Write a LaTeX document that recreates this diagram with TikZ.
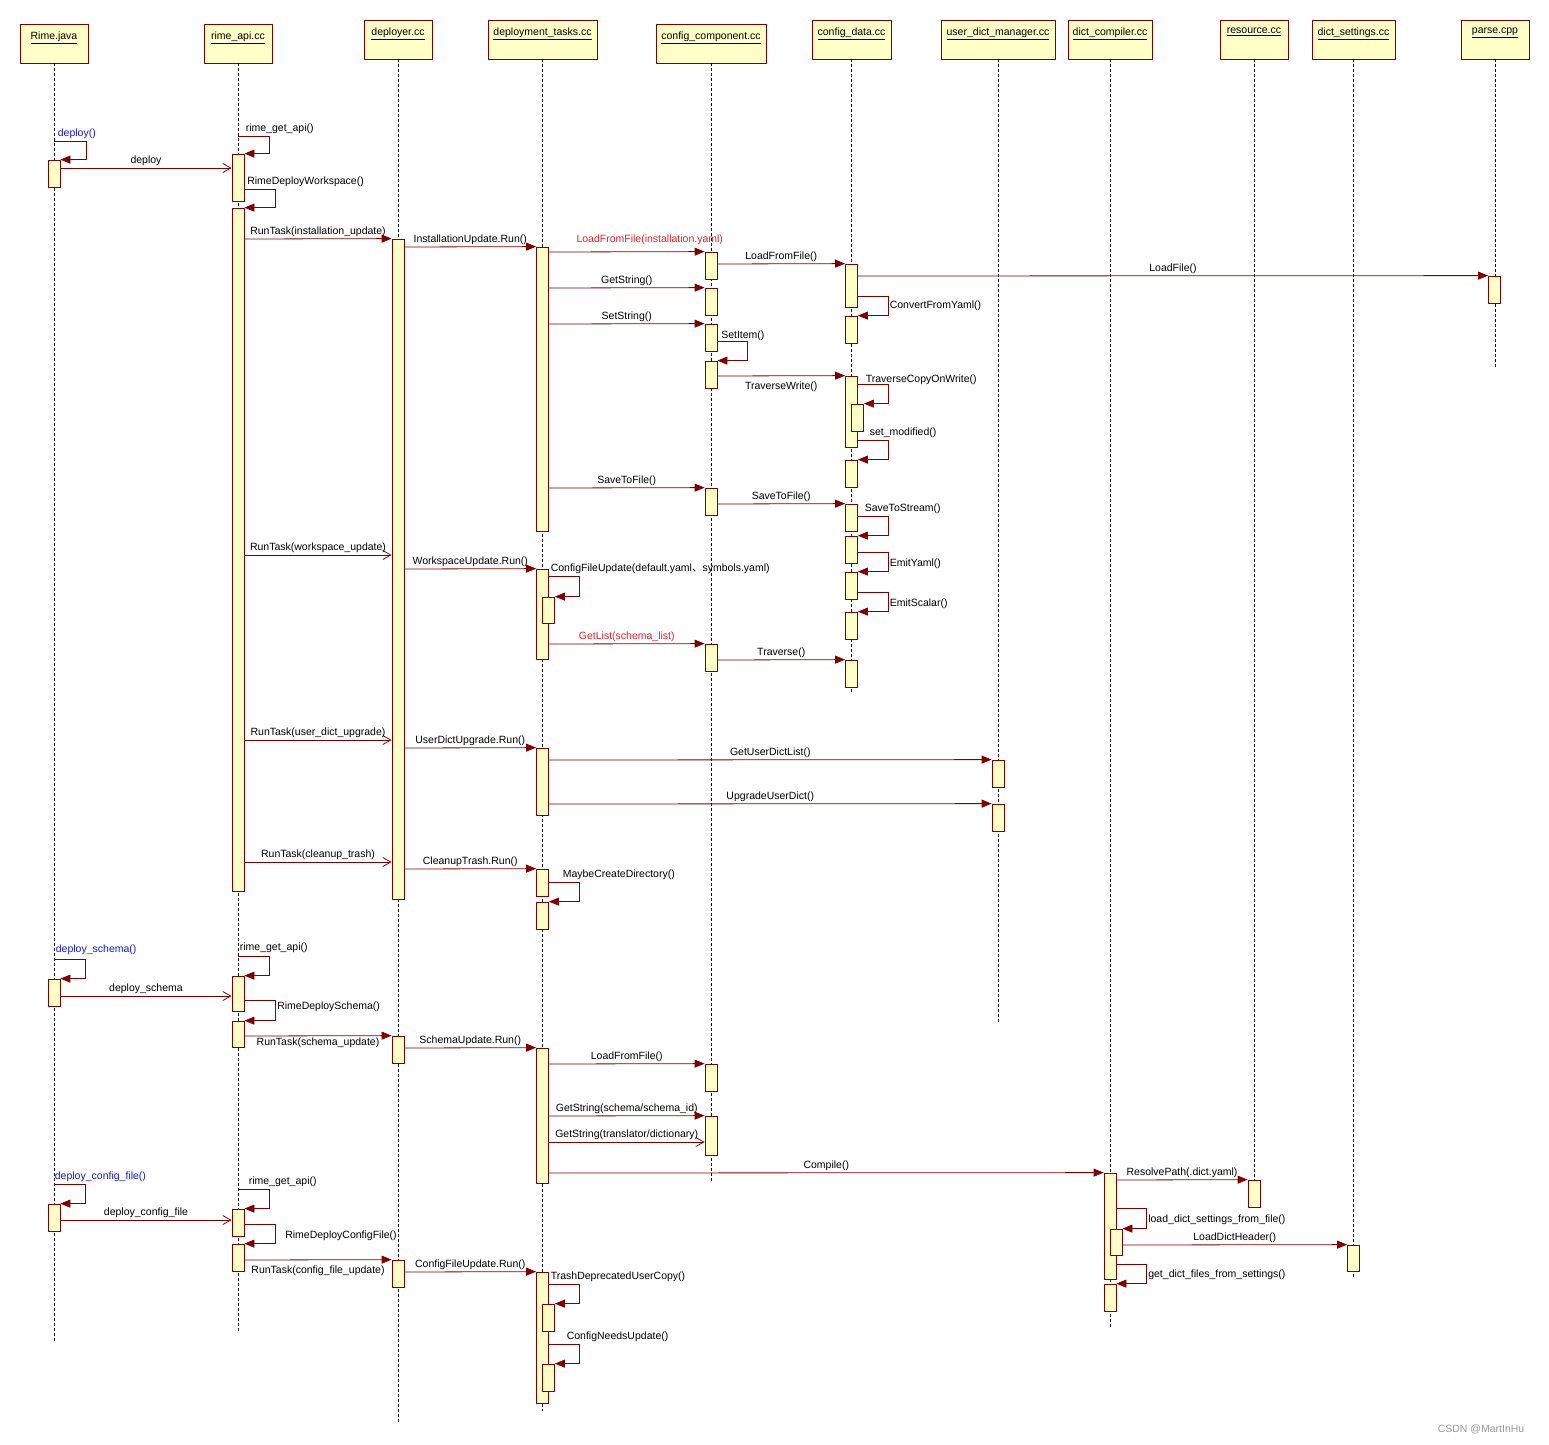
\documentclass[tikz,border=0pt]{standalone}
\usepackage{fontspec}
\setmainfont{Liberation Sans}
\newfontfamily\cjk{Noto Sans CJK SC}
\usepackage{tikz}
\usetikzlibrary{arrows.meta, positioning}

\definecolor{dred}{RGB}{128,0,0}
\definecolor{lyel}{RGB}{255,255,200}
\definecolor{ublue}{RGB}{20,20,230}
\definecolor{ured}{RGB}{230,30,40}

\begin{document}
\begin{tikzpicture}[
    x=1pt, y=-1pt,
    font=\fontsize{10.5}{12}\selectfont,
    head/.style={rectangle, draw=dred, fill=lyel, minimum height=39, inner sep=0, line width=0.8pt},
    act/.style={rectangle, draw=dred, fill=lyel, minimum width=12, inner sep=0, line width=0.8pt},
    life/.style={draw=black, dash pattern=on 3pt off 2pt, line width=0.6pt},
    call/.style={draw=dred, line width=0.8pt, -{Triangle[length=10pt,width=8pt]}},
    async/.style={draw=dred, line width=0.8pt, -{Straight Barb[length=8pt,width=9pt]}},
    lbl/.style={inner sep=1.5pt, text=black}
]
    \useasboundingbox (0,0) rectangle (1549,1444);
    % lifeline heads
    \foreach \n/\x/\y/\w/\t in {rj/54/43.5/68/Rime.java, ra/238/43.5/68/rime\_api.cc,
        dp/398/39.5/68/deployer.cc, dt/542.5/39.5/109/deployment\_tasks.cc,
        cc/711/43.5/110/config\_component.cc, cd/851.5/39.5/79/config\_data.cc,
        ud/998/39.5/114/user\_dict\_manager.cc, dc/1110/39.5/84/dict\_compiler.cc,
        rs/1254/39.5/68/resource.cc, ds/1353.5/39.5/83/dict\_settings.cc,
        pc/1495/39.5/68/parse.cpp}
        \node[head, minimum width=\w, label={[anchor=north, yshift=-5pt]north:\underline{\t}}] (\n) at (\x,\y) {};
    \foreach \n/\e in {rj/1343, ra/1333, dp/1423, dt/1411, cc/1182, cd/692,
        ud/1022, dc/1327, rs/1207, ds/1279, pc/368}
        \draw[life] (\n) -- (\n |- 0,\e);
    % activations
    \foreach \n/\x/\a/\b in {rj1/54/160/187, rj2/54/979/1006, rj3/54/1204/1231,
        ra1/238/154/201, ra2/238/208/891, ra3/238/976/1011, ra4/238/1021/1047, ra5/238/1209/1236, ra6/238/1244/1271,
        dp1/398/239/899, dp2/398/1036/1063, dp3/398/1260/1287,
        dt1/542.5/247/531, dt2/542.5/569/659, dt2n/548.5/597/623, dt3/542.5/748/815, dt4/542.5/869/896,
        dt5/542.5/902/929, dt6/542.5/1048/1183, dt7/542.5/1272/1403, dt7a/548.5/1304/1331, dt7b/548.5/1364/1391,
        cc1/711/252/279, cc2/711/288/315, cc3/711/324/351, cc4/711/361/388, cc5/711/488/515,
        cc6/711/644/671, cc7/711/1064/1091, cc8/711/1116/1155,
        cd1/851.5/264/307, cd2/851.5/316/343, cd3/851.5/376/447, cd3n/857.5/404/431, cd4/851.5/460/487,
        cd5/851.5/504/531, cd6/851.5/536/563, cd7/851.5/572/599, cd8/851.5/612/639, cd9/851.5/660/687,
        ud1/998/760/787, ud2/998/804/831,
        dc1/1110/1173/1279, dc1n/1116/1229/1255, dc2/1110/1284/1311,
        rs1/1254/1180/1207, ds1/1353.5/1245/1271, pc1/1494.5/276/303}
        \node[act, minimum height=\b-\a] (\n) at (\x,{(\a+\b)/2}) {};

    % deploy workspace
    \draw[call] (rj.south |- 0,141) node[lbl, text=ublue, above right, xshift=2pt] {deploy()} -- ++(32,0) |- (rj1.north east);
    \draw[call] (ra.south |- 0,136) node[lbl, above right, xshift=6pt] {rime\_get\_api()} -- ++(31,0) |- (ra1.north east);
    \draw[async] (rj1.east |- 0,168) -- node[lbl, above] {deploy} (ra1.west |- 0,168);
    \draw[call] (ra1.east |- 0,189) node[lbl, above right, xshift=1pt] {RimeDeployWorkspace()} -- ++(31,0) |- (ra2.north east);
    \draw[call] (ra2.east |- 0,239) -- node[lbl, above] {RunTask(installation\_update)} (dp1.north west);
    \draw[call] (dp1.east |- 0,247) -- node[lbl, above] {InstallationUpdate.Run()} (dt1.north west);
    \draw[call] (dt1.east |- 0,252) -- node[lbl, above, text=ured, xshift=23pt, yshift=5pt] {LoadFromFile(installation.yaml)} (cc1.north west);
    \draw[call] (cc1.east |- 0,264) -- node[lbl, above] {LoadFromFile()} (cd1.north west);
    \draw[call] (cd1.east |- 0,276) -- node[lbl, above] {LoadFile()} (pc1.north west);
    \draw[call] (cd1.east |- 0,296) -- ++(30,0) |- node[lbl, right, pos=0.25] {ConvertFromYaml()} (cd2.north east);
    \draw[call] (dt1.east |- 0,288) -- node[lbl, above] {GetString()} (cc2.north west);
    \draw[call] (dt1.east |- 0,324) -- node[lbl, above] {SetString()} (cc3.north west);
    \draw[call] (cc3.east |- 0,341) node[lbl, above right, xshift=2pt, yshift=-2pt] {SetItem()} -- ++(30,0) |- (cc4.north east);
    \draw[call] (cc4.east |- 0,376) -- node[lbl, below, yshift=-4pt] {TraverseWrite()} (cd3.north west);
    \draw[call] (cd3.east |- 0,384) node[lbl, anchor=west, xshift=6pt, yshift=4pt] {TraverseCopyOnWrite()} -- ++(30,0) |- (cd3n.north east);
    \draw[call] (cd3.east |- 0,440) node[lbl, above right, xshift=10pt] {set\_modified()} -- ++(30,0) |- (cd4.north east);
    \draw[call] (dt1.east |- 0,488) -- node[lbl, above] {SaveToFile()} (cc5.north west);
    \draw[call] (cc5.east |- 0,504) -- node[lbl, above] {SaveToFile()} (cd5.north west);
    \draw[call] (cd5.east |- 0,516) node[lbl, above right, xshift=5pt] {SaveToStream()} -- ++(30,0) |- (cd6.north east);
    \draw[call] (cd6.east |- 0,552) -- ++(30,0) |- node[lbl, right, pos=0.25, yshift=-2pt] {EmitYaml()} (cd7.north east);
    \draw[call] (cd7.east |- 0,592) -- ++(30,0) |- node[lbl, right, pos=0.25, yshift=-2pt] {EmitScalar()} (cd8.north east);
    \draw[async] (ra2.east |- 0,555) -- node[lbl, above] {RunTask(workspace\_update)} (dp1.west |- 0,555);
    \draw[call] (dp1.east |- 0,569) -- node[lbl, above] {WorkspaceUpdate.Run()} (dt2.north west);
    \draw[call] (dt2.east |- 0,576) node[lbl, above right] {ConfigFileUpdate(default.yaml{\cjk 、}symbols.yaml)} -- ++(30,0) |- (dt2n.north east);
    \draw[call] (dt2.east |- 0,644) -- node[lbl, above, text=ured] {GetList(schema\_list)} (cc6.north west);
    \draw[call] (cc6.east |- 0,660) -- node[lbl, above] {Traverse()} (cd9.north west);
    \draw[async] (ra2.east |- 0,740) -- node[lbl, above] {RunTask(user\_dict\_upgrade)} (dp1.west |- 0,740);
    \draw[call] (dp1.east |- 0,748) -- node[lbl, above] {UserDictUpgrade.Run()} (dt3.north west);
    \draw[call] (dt3.east |- 0,760) -- node[lbl, above] {GetUserDictList()} (ud1.north west);
    \draw[call] (dt3.east |- 0,804) -- node[lbl, above] {UpgradeUserDict()} (ud2.north west);
    \draw[async] (ra2.east |- 0,862) -- node[lbl, above] {RunTask(cleanup\_trash)} (dp1.west |- 0,862);
    \draw[call] (dp1.east |- 0,869) -- node[lbl, above] {CleanupTrash.Run()} (dt4.north west);
    \draw[call] (dt4.east |- 0,882) node[lbl, above right, xshift=12pt] {MaybeCreateDirectory()} -- ++(30,0) |- (dt5.north east);

    % deploy schema
    \draw[call] (rj.south |- 0,959) node[lbl, text=ublue, above right, yshift=2pt] {deploy\_schema()} -- ++(31,0) |- (rj2.north east);
    \draw[call] (ra.south |- 0,956) node[lbl, above right, yshift=1pt] {rime\_get\_api()} -- ++(31,0) |- (ra3.north east);
    \draw[async] (rj2.east |- 0,996) -- node[lbl, above] {deploy\_schema} (ra3.west |- 0,996);
    \draw[call] (ra3.east |- 0,1000) -- ++(31,0) |- node[lbl, right, pos=0.25, yshift=4pt] {RimeDeploySchema()} (ra4.north east);
    \draw[call] (ra4.east |- 0,1036) -- node[lbl, below] {RunTask(schema\_update)} (dp2.north west);
    \draw[call] (dp2.east |- 0,1048) -- node[lbl, above] {SchemaUpdate.Run()} (dt6.north west);
    \draw[call] (dt6.east |- 0,1064) -- node[lbl, above] {LoadFromFile()} (cc7.north west);
    \draw[call] (dt6.east |- 0,1116) -- node[lbl, above] {GetString(schema/schema\_id)} (cc8.north west);
    \draw[async] (dt6.east |- 0,1142) -- node[lbl, above] {GetString(translator/dictionary)} (cc8.west |- 0,1142);
    \draw[call] (dt6.east |- 0,1173) -- node[lbl, above] {Compile()} (dc1.north west);
    \draw[call] (dc1.east |- 0,1180) -- node[lbl, above] {ResolvePath(.dict.yaml)} (rs1.north west);
    \draw[call] (dc1.east |- 0,1208) -- ++(30,0) |- node[lbl, right, pos=0.25, yshift=-1pt] {load\_dict\_settings\_from\_file()} (dc1n.north east);
    \draw[call] (dc1n.east |- 0,1245) -- node[lbl, above] {LoadDictHeader()} (ds1.north west);
    \draw[call] (dc1.east |- 0,1264) -- ++(30,0) |- node[lbl, right, pos=0.25, yshift=-1pt] {get\_dict\_files\_from\_settings()} (dc2.north east);

    % deploy config file
    \draw[call] (rj.south |- 0,1184) node[lbl, text=ublue, above right, xshift=-1pt] {deploy\_config\_file()} -- ++(31,0) |- (rj3.north east);
    \draw[call] (ra.south |- 0,1189) node[lbl, above right, xshift=9pt] {rime\_get\_api()} -- ++(31,0) |- (ra5.north east);
    \draw[async] (rj3.east |- 0,1220) -- node[lbl, above] {deploy\_config\_file} (ra5.west |- 0,1220);
    \draw[call] (ra5.east |- 0,1224) -- ++(31,0) |- node[lbl, right, pos=0.25, xshift=8pt, yshift=-2pt] {RimeDeployConfigFile()} (ra6.north east);
    \draw[call] (ra6.east |- 0,1260) -- node[lbl, below, yshift=-4pt] {RunTask(config\_file\_update)} (dp3.north west);
    \draw[call] (dp3.east |- 0,1272) -- node[lbl, above] {ConfigFileUpdate.Run()} (dt7.north west);
    \draw[call] (dt7.east |- 0,1284) node[lbl, above right] {TrashDeprecatedUserCopy()} -- ++(30,0) |- (dt7a.north east);
    \draw[call] (dt7.east |- 0,1344) node[lbl, above right, xshift=16pt] {ConfigNeedsUpdate()} -- ++(30,0) |- (dt7b.north east);

    \node[text=black!40] (mark) at (1481,1429) {CSDN @MartInHu};
\end{tikzpicture}
\end{document}
